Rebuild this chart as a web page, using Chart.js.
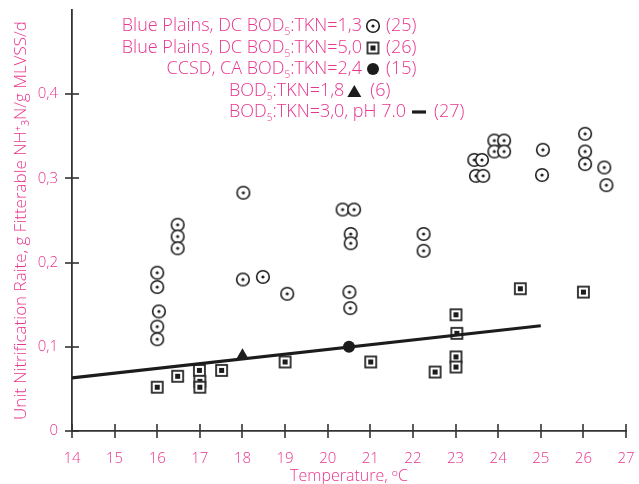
<!DOCTYPE html>
<html><head><meta charset="utf-8">
<script src="https://cdn.jsdelivr.net/npm/chart.js@4"></script>
<style>html,body{margin:0;padding:0;background:#fff;overflow:hidden}</style>
</head><body>
<canvas id="c" width="639" height="484"></canvas>
<script>
// ---------- data ----------
const xTickValues = [14,15,16,17,18,19,20,21,22,23,24,25,26,27];
const yTickValues = [0, 0.1, 0.2, 0.3, 0.4];

// Blue Plains, DC BOD5:TKN=1,3 (circle with dot)
const bp13X = [16.0,16.0,16.04,16.0,16.0,16.48,16.48,16.48,18.02,18.01,18.48,19.05,20.35,20.62,20.54,20.54,20.51,20.53,22.25,22.25,23.44,23.62,23.48,23.65,23.91,24.14,23.91,24.14,25.05,25.03,26.04,26.04,26.04,26.49,26.54];
const bp13Y = [0.188,0.171,0.142,0.124,0.109,0.245,0.231,0.217,0.283,0.180,0.183,0.163,0.263,0.263,0.234,0.223,0.165,0.146,0.234,0.214,0.322,0.322,0.303,0.303,0.345,0.345,0.332,0.332,0.334,0.304,0.353,0.332,0.317,0.313,0.292];

// Blue Plains, DC BOD5:TKN=5,0 (square with dot)
const bp50X = [16.0,16.48,16.99,17.0,17.0,17.51,19.0,21.01,22.52,23.01,23.03,23.01,23.01,24.52,26.0];
const bp50Y = [0.052,0.065,0.072,0.059,0.052,0.072,0.082,0.082,0.070,0.138,0.116,0.088,0.076,0.169,0.165];

// CCSD, CA BOD5:TKN=2,4 (filled circle)
const ccsdX = [20.5];
const ccsdY = [0.100];

// BOD5:TKN=1,8 (triangle)
const tkn18X = [18.0];
const tkn18Y = [0.090];

// BOD5:TKN=3,0, pH 7.0 (line)
const fitX = [14, 25];
const fitY = [0.063, 0.125];

const legendPrefix = ['Blue Plains, DC BOD', 'Blue Plains, DC BOD', 'CCSD, CA BOD', 'BOD', 'BOD'];
const legendSuffix = [':TKN=1,3', ':TKN=5,0', ':TKN=2,4', ':TKN=1,8', ':TKN=3,0, pH 7.0'];
const legendCounts = ['(25)', '(26)', '(15)', '(6)', '(27)'];

// ---------- style ----------
const PINK = '#e8358e';
const INK = '#1c1c1c';
const FONT = "'Open Sans', 'Noto Sans', sans-serif";

function pts(xs, ys){ return xs.map((x,i)=>({x:x, y:ys[i]})); }

function makeCircleDot(){
  const c = document.createElement('canvas'); c.width = 16; c.height = 16;
  const g = c.getContext('2d');
  g.beginPath(); g.arc(8,8,6.3,0,Math.PI*2);
  g.fillStyle = '#fff'; g.fill();
  g.lineWidth = 1.6; g.strokeStyle = INK; g.stroke();
  g.beginPath(); g.arc(8,8,1.6,0,Math.PI*2); g.fillStyle = INK; g.fill();
  return c;
}
function makeSquareDot(){
  const c = document.createElement('canvas'); c.width = 15; c.height = 15;
  const g = c.getContext('2d');
  g.fillStyle = '#fff'; g.fillRect(1.5,1.5,12,12);
  g.lineWidth = 1.7; g.strokeStyle = INK; g.strokeRect(2,2,11,11);
  g.fillStyle = INK; g.fillRect(5,5,5,5);
  return c;
}
const circleDot = makeCircleDot();
const squareDot = makeSquareDot();

// Cross ticks across the axis lines
const crossTicks = {
  id: 'crossTicks',
  afterDraw(chart){
    const ctx = chart.ctx, xs = chart.scales.x, ys = chart.scales.y;
    ctx.save();
    ctx.strokeStyle = '#333'; ctx.lineWidth = 1.6;
    xTickValues.forEach(v=>{
      const px = Math.round(xs.getPixelForValue(v));
      ctx.beginPath(); ctx.moveTo(px, ys.bottom-7); ctx.lineTo(px, ys.bottom+7); ctx.stroke();
    });
    yTickValues.forEach(v=>{
      const py = Math.round(ys.getPixelForValue(v));
      ctx.beginPath(); ctx.moveTo(xs.left-7, py); ctx.lineTo(xs.left+7, py); ctx.stroke();
    });
    ctx.restore();
  }
};

// Text legend with subscripts
const textLegend = {
  id: 'textLegend',
  afterDraw(chart){
    const ctx = chart.ctx;
    const big = "300 18px " + FONT, small = "300 10px " + FONT;
    function widthOf(i){
      ctx.font = big; let w = ctx.measureText(legendPrefix[i]).width + ctx.measureText(legendSuffix[i]).width;
      ctx.font = small; w += ctx.measureText('5').width;
      return w;
    }
    function drawLabel(i, x, y){
      ctx.fillStyle = PINK; ctx.textBaseline = 'middle'; ctx.textAlign = 'left';
      ctx.font = big; ctx.fillText(legendPrefix[i], x, y); x += ctx.measureText(legendPrefix[i]).width;
      ctx.font = small; ctx.fillText('5', x, y+6); x += ctx.measureText('5').width;
      ctx.font = big; ctx.fillText(legendSuffix[i], x, y);
    }
    const rowsY = [26, 48, 69, 91, 112];
    const anchors = [
      {align:'right', x:362},
      {align:'right', x:362},
      {align:'right', x:362},
      {align:'left',  x:229},
      {align:'left',  x:229}
    ];
    ctx.save();
    for (let i=0;i<5;i++){
      const a = anchors[i], w = widthOf(i);
      const x0 = a.align==='right' ? a.x - w : a.x;
      const y = rowsY[i];
      drawLabel(i, x0, y);
      const end = x0 + w;
      let cx;
      if (i===0){ ctx.drawImage(circleDot, end+11-8, y-8); cx = end+24; }
      else if (i===1){ ctx.drawImage(squareDot, end+11-7.5, y-7.5); cx = end+24; }
      else if (i===2){ ctx.beginPath(); ctx.arc(end+11, y, 6, 0, Math.PI*2); ctx.fillStyle = INK; ctx.fill(); cx = end+24; }
      else if (i===3){ const m = end+10; ctx.beginPath(); ctx.moveTo(m-7,y+6); ctx.lineTo(m+7,y+6); ctx.lineTo(m,y-6); ctx.closePath(); ctx.fillStyle = INK; ctx.fill(); cx = end+26; }
      else { ctx.strokeStyle = INK; ctx.lineWidth = 3.2; ctx.beginPath(); ctx.moveTo(end+6, y); ctx.lineTo(end+20, y); ctx.stroke(); cx = end+28; }
      ctx.fillStyle = PINK; ctx.font = big; ctx.textAlign = 'left'; ctx.textBaseline = 'middle';
      ctx.fillText(legendCounts[i], cx, y);
    }
    ctx.restore();
  }
};

new Chart(document.getElementById('c'), {
  type: 'scatter',
  data: {
    datasets: [
      { label: 'fit', type: 'line', data: pts(fitX, fitY), borderColor: INK, borderWidth: 3.2, pointRadius: 0, fill: false, order: 0 },
      { label: 'tkn18', data: pts(tkn18X, tkn18Y), pointStyle: 'triangle', pointRadius: 7, backgroundColor: INK, borderColor: INK, borderWidth: 0, order: 1 },
      { label: 'ccsd', data: pts(ccsdX, ccsdY), pointStyle: 'circle', pointRadius: 6, backgroundColor: INK, borderColor: INK, borderWidth: 0, order: 2 },
      { label: 'bp50', data: pts(bp50X, bp50Y), pointStyle: squareDot, order: 3 },
      { label: 'bp13', data: pts(bp13X, bp13Y), pointStyle: circleDot, order: 4 }
    ]
  },
  options: {
    responsive: false,
    animation: false,
    devicePixelRatio: 1,
    layout: { padding: { top: 10, right: 13, left: 0, bottom: 0 } },
    plugins: { legend: { display: false }, tooltip: { enabled: false } },
    scales: {
      x: {
        type: 'linear', min: 14, max: 27,
        afterFit(s){ s.height = 53; s.paddingLeft = 0; s.paddingRight = 0; s.paddingTop = 0; s.paddingBottom = 0; },
        afterBuildTicks(s){ s.ticks = xTickValues.map(v=>({value:v})); },
        grid: { display: false },
        border: { display: true, color: '#333', width: 1.8 },
        ticks: { color: PINK, font: { family: FONT, size: 15, weight: '300' }, padding: 11, maxRotation: 0, autoSkip: false },
        title: { display: true, text: 'Temperature, ᵒC', color: PINK, font: { family: FONT, size: 16, weight: '300', lineHeight: 1 }, padding: { top: 0, bottom: 0 } }
      },
      y: {
        type: 'linear', min: 0, max: 0.5,
        afterFit(s){ s.width = 72; s.paddingLeft = 0; s.paddingRight = 0; s.paddingTop = 0; s.paddingBottom = 0; },
        afterBuildTicks(s){ s.ticks = yTickValues.map(v=>({value:v})); },
        grid: { display: false },
        border: { display: true, color: '#333', width: 1.8 },
        ticks: { color: PINK, font: { family: FONT, size: 15, weight: '300' }, padding: 6,
          callback: v => v === 0 ? '0' : v.toFixed(1).replace('.', ',') },
        title: { display: true, text: 'Unit Nitrification Raite, g Fitterable NH⁺₃N/g MLVSS/d', color: PINK, font: { family: FONT, size: 17, weight: '300' }, padding: { top: 11, bottom: 0 } }
      }
    }
  },
  plugins: [crossTicks, textLegend]
});
</script>
</body></html>
